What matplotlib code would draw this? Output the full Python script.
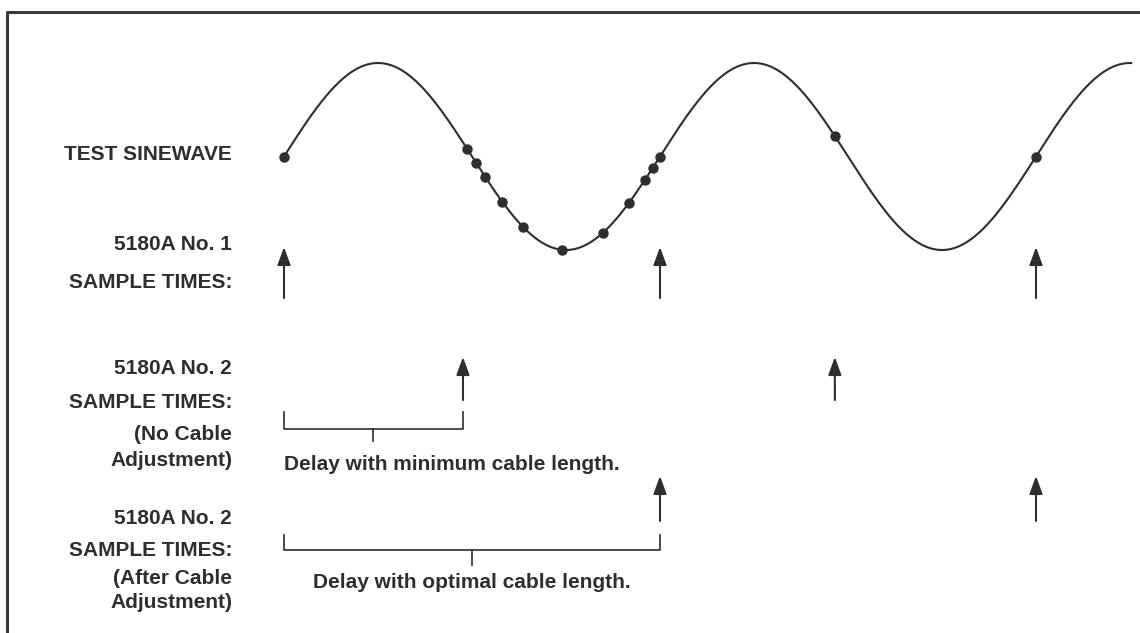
import matplotlib
matplotlib.use("Agg")
import matplotlib.pyplot as plt
import numpy as np

# time axis is in periods of the test sinewave (t = 0 is the first sample)
wave_end = 2.253
wave_mid = 156.5     # rows, drawing units
wave_amp = 93.5

# sample instants (periods)
ch1_times = [0.0, 1.0, 2.0]
ch2_raw_times = [0.476, 1.465]
ch2_adj_times = [1.0, 2.0]
dot_times = [0.0, 0.487, 0.511, 0.535, 0.580, 0.636, 0.739, 0.848,
             0.918, 0.960, 0.981, 1.0, 1.465, 2.0]

labels = [("TEST SINEWAVE", 155),
          ("5180A No. 1", 245), ("SAMPLE TIMES:", 282),
          ("5180A No. 2", 368), ("SAMPLE TIMES:", 402),
          ("(No Cable", 434), ("Adjustment)", 460),
          ("5180A No. 2", 519), ("SAMPLE TIMES:", 550),
          ("(After Cable", 578), ("Adjustment)", 603)]

ink = "#2e2e2e"
plt.rcParams['font.family'] = ['Liberation Sans', 'DejaVu Sans']

fig = plt.figure(figsize=(11.4, 6.33), dpi=100)
ax = fig.add_axes([0, 0, 1, 1])
ax.set_xlim(-284 / 376, (1140 - 284) / 376)
ax.set_ylim(633, 0)
ax.axis("off")

def wave(t):
    return wave_mid - wave_amp * np.sin(2 * np.pi * np.asarray(t))

# the sinewave and its sampled points
t = np.linspace(0, wave_end, 600)
ax.plot(t, wave(t), color=ink, lw=1.5)
ax.plot(dot_times, wave(dot_times), "o", color=ink, ms=6.5)

# sample-time arrows
def arrows(times, tip, tail):
    for x in times:
        ax.annotate("", xy=(x, tip), xytext=(x, tail),
                    arrowprops=dict(arrowstyle="-|>,head_length=0.6,head_width=0.22",
                                    color=ink, lw=1.5, mutation_scale=18,
                                    shrinkA=0, shrinkB=0))

arrows(ch1_times, 247, 298)
arrows(ch2_raw_times, 357, 400)
arrows(ch2_adj_times, 476, 521)

# delay brackets
def bracket(x0, x1, top, base, tick):
    ax.plot([x0, x0, x1, x1], [top, base, base, top], color=ink, lw=1.2)
    xm = (x0 + x1) / 2
    ax.plot([xm, xm], [base, tick], color=ink, lw=1.2)

bracket(ch1_times[0], ch2_raw_times[0], 412, 429, 441)
bracket(ch1_times[0], ch2_adj_times[0], 535, 550, 565)

ax.text(ch1_times[0], 464, "Delay with minimum cable length.", ha="left", va="center",
        fontsize=15, fontweight="bold", color=ink)
ax.text((ch1_times[0] + ch2_adj_times[0]) / 2, 582, "Delay with optimal cable length.",
        ha="center", va="center", fontsize=15, fontweight="bold", color=ink)

for txt, y in labels:
    ax.text(-52 / 376, y, txt, ha="right", va="center",
            fontsize=15, fontweight="bold", color=ink)

# frame (top and left edges only)
ax.plot([7 / 1140, 7 / 1140, 1], [0, 1 - 12 / 633, 1 - 12 / 633],
        transform=ax.transAxes, color="#3a3a3a", lw=2.2, clip_on=False)

fig.savefig("out.png", dpi=100, facecolor="white")
